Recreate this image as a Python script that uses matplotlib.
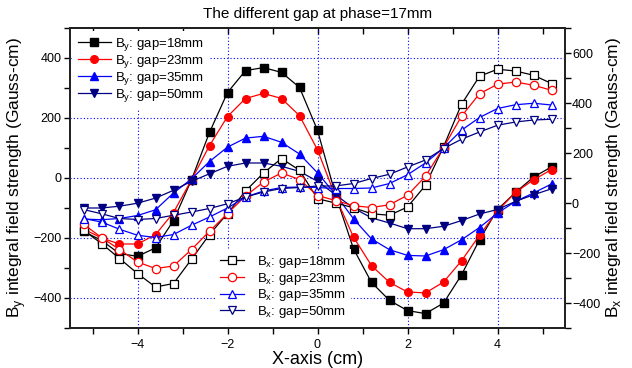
import matplotlib
matplotlib.use("Agg")
import matplotlib.pyplot as plt
from matplotlib.ticker import MultipleLocator

plt.rcParams['font.family'] = ['Liberation Sans', 'DejaVu Sans']
plt.rcParams['mathtext.fontset'] = 'custom'
plt.rcParams['mathtext.rm'] = 'Liberation Sans'

x_cm = [-5.2, -4.8, -4.4, -4.0, -3.6, -3.2, -2.8, -2.4, -2.0, -1.6, -1.2, -0.8, -0.4, 0.0,
        0.4, 0.8, 1.2, 1.6, 2.0, 2.4, 2.8, 3.2, 3.6, 4.0, 4.4, 4.8, 5.2]

by_18 = [-178, -208, -252, -261, -233, -142, -6, 152, 285, 358, 368, 352, 302, 159,
         -56, -236, -348, -408, -442, -452, -417, -323, -206, -105, -48, 3, 37]
by_23 = [-170, -200, -220, -220, -189, -115, -6, 108, 205, 265, 282, 265, 208, 94,
         -62, -197, -292, -348, -380, -383, -347, -276, -191, -110, -48, -6, 28]
by_35 = [-137, -139, -135, -125, -106, -50, -3, 55, 103, 133, 139, 119, 80, 17,
         -55, -136, -203, -239, -258, -260, -239, -206, -165, -117, -78, -50, -20]
by_50 = [-100, -100, -94, -84, -67, -41, -11, 14, 39, 50, 50, 39, 22, -11,
         -56, -100, -133, -150, -169, -169, -161, -142, -120, -105, -78, -56, -36]

bx_18 = [-109, -162, -222, -282, -336, -322, -225, -126, -42, 48, 120, 178, 131, 17,
         0, -19, -43, -49, -16, 71, 225, 395, 507, 535, 528, 511, 478]
bx_23 = [-85, -138, -186, -236, -262, -252, -186, -113, -42, 28, 84, 120, 94, 30,
         10, -11, -18, -7, 31, 107, 222, 347, 437, 475, 484, 471, 451]
bx_35 = [-62, -76, -105, -129, -138, -126, -89, -56, -20, 24, 48, 62, 64, 62,
         58, 58, 60, 78, 113, 160, 220, 291, 342, 378, 393, 399, 392]
bx_50 = [-26, -43, -62, -66, -62, -49, -36, -22, -3, 24, 44, 58, 62, 68,
         68, 78, 98, 115, 144, 172, 218, 255, 284, 311, 324, 332, 335]

gaps = ['18mm', '23mm', '35mm', '50mm']
colors = ['black', 'red', 'blue', '#000080']
markers_y = ['s', 'o', '^', 'v']

fig = plt.figure(figsize=(6.32, 3.68), dpi=100)
ax1 = fig.add_axes([70/632, 40/368, 495/632, 300/368])
ax2 = ax1.twinx()

for vals, c, m, g in zip([by_18, by_23, by_35, by_50], colors, markers_y, gaps):
    ax1.plot(x_cm, vals, color=c, marker=m, markersize=5.5, linewidth=0.9,
             markerfacecolor=c, markeredgecolor=c,
             label=r'B$_\mathregular{y}$: gap=' + g, zorder=3)

for vals, c, m, g in zip([bx_18, bx_23, bx_35, bx_50], colors, markers_y, gaps):
    ax2.plot(x_cm, vals, color=c, marker=m, markersize=6, linewidth=0.9,
             markerfacecolor='white', markeredgecolor=c, markeredgewidth=0.9,
             label=r'B$_\mathregular{x}$: gap=' + g, zorder=3)

ax1.set_xlim(-5.5, 5.5)
ax1.set_ylim(-500, 500)
ax2.set_ylim(-500, 700)

ax1.xaxis.set_major_locator(MultipleLocator(2))
ax1.xaxis.set_minor_locator(MultipleLocator(1))
ax1.yaxis.set_major_locator(MultipleLocator(200))
ax1.yaxis.set_minor_locator(MultipleLocator(100))
ax2.yaxis.set_major_locator(MultipleLocator(200))
ax2.yaxis.set_minor_locator(MultipleLocator(100))

ax1.grid(True, which='major', color='blue', linestyle=(0, (1, 2)), linewidth=0.8)

ax1.tick_params(axis='both', which='both', direction='out', length=4, width=1,
                labelsize=9, pad=2)
ax1.tick_params(axis='x', pad=4)
ax2.tick_params(axis='y', which='both', direction='out', length=4, width=1,
                labelsize=9, pad=1)

sec = ax1.secondary_xaxis('top')
sec.xaxis.set_major_locator(MultipleLocator(2))
sec.xaxis.set_minor_locator(MultipleLocator(1))
sec.tick_params(axis='x', which='both', direction='in', length=4, width=1,
                labeltop=False)

for ax in (ax1, ax2):
    for s in ax.spines.values():
        s.set_linewidth(1.3)
        s.set_color('#222222')
sec.spines['top'].set_linewidth(1.3)

ax1.set_xlabel('X-axis (cm)', fontsize=13, labelpad=0)
ax1.set_ylabel(r'B$_\mathregular{y}$ integral field strength (Gauss-cm)', fontsize=12.5, labelpad=4)
ax2.set_ylabel(r'B$_\mathregular{x}$ integral field strength (Gauss-cm)', fontsize=12.5, labelpad=3)
ax1.set_title('The different gap at phase=17mm', fontsize=11, pad=7)

leg1 = ax1.legend(loc='upper left', bbox_to_anchor=(0.0, 1.0), fontsize=9.5,
                  frameon=True, facecolor='white', edgecolor='none', framealpha=1,
                  handlelength=2.5, handletextpad=0.3, labelspacing=0.0,
                  borderpad=0.4, borderaxespad=0.2, fancybox=False)
leg1.set_zorder(5)

leg2 = ax2.legend(loc='lower left', bbox_to_anchor=(142/495, 0.0), fontsize=9.5,
                  frameon=True, facecolor='white', edgecolor='none', framealpha=1,
                  handlelength=1.8, handletextpad=1.0, labelspacing=0.05,
                  borderpad=0.4, borderaxespad=0.2, fancybox=False)
leg2.set_zorder(5)

fig.savefig('out.png', dpi=100)
